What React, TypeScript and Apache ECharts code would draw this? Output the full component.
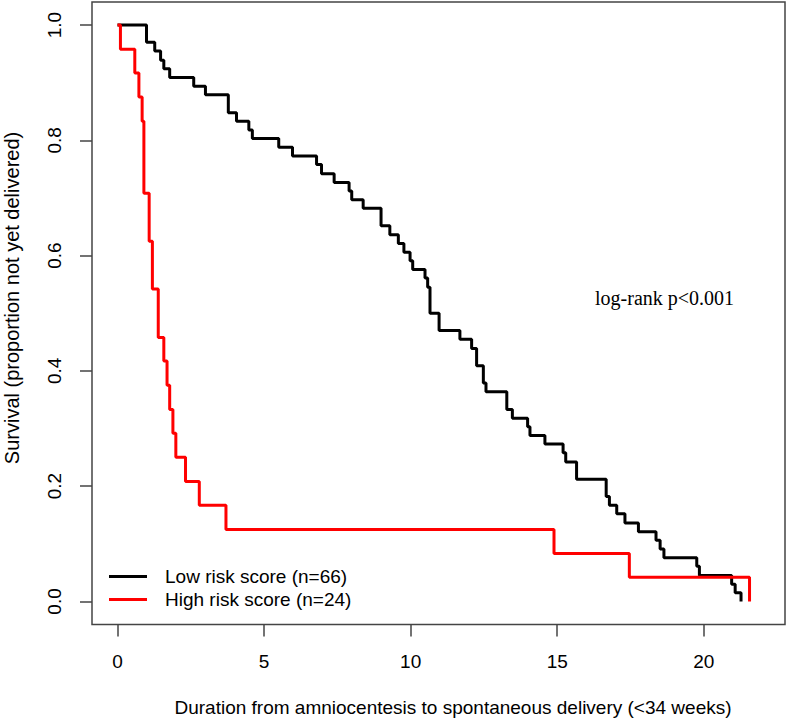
import React, { useEffect, useRef } from "react";
import * as echarts from "echarts";

const xTicks = [0, 5, 10, 15, 20];
const yTicks = [0, 0.2, 0.4, 0.6, 0.8, 1.0];

const lowName = "Low risk score (n=66)";
const highName = "High risk score (n=24)";

const lowTimes = [
  0, 0.99, 1.27, 1.47, 1.58, 1.78, 2.6, 3.0, 3.78, 4.06, 4.48,
  4.6, 5.5, 5.97, 6.79, 6.96, 7.39, 7.9, 7.99, 8.38, 8.99,
  9.29, 9.58, 9.77, 9.98, 10.07, 10.49, 10.58, 10.66, 10.97, 11.68,
  12.08, 12.25, 12.48, 12.57, 13.28, 13.47, 13.99, 14.07, 14.58, 15.2,
  15.29, 15.66, 16.67, 16.78, 17.03, 17.31, 17.77, 18.37, 18.51, 18.64,
  19.76, 19.85, 20.95, 21.07, 21.27,
];
const lowSurv = [
  1.0, 0.970, 0.955, 0.939, 0.924, 0.909, 0.894, 0.879, 0.848, 0.833, 0.818,
  0.803, 0.788, 0.773, 0.758, 0.742, 0.727, 0.712, 0.697, 0.682, 0.652,
  0.636, 0.621, 0.606, 0.591, 0.576, 0.561, 0.545, 0.500, 0.470, 0.455,
  0.439, 0.409, 0.379, 0.364, 0.333, 0.318, 0.303, 0.288, 0.273, 0.258,
  0.242, 0.212, 0.182, 0.167, 0.152, 0.136, 0.121, 0.106, 0.091, 0.076,
  0.061, 0.045, 0.030, 0.015, 0.0,
];

const highTimes = [
  0, 0.1, 0.59, 0.73, 0.84, 0.9, 1.08, 1.19, 1.39, 1.58, 1.69,
  1.78, 1.89, 1.99, 2.32, 2.79, 3.7, 14.89, 17.46, 21.56,
];
const highSurv = [
  1.0, 0.958, 0.917, 0.875, 0.833, 0.708, 0.625, 0.542, 0.458, 0.417, 0.375,
  0.333, 0.292, 0.25, 0.208, 0.167, 0.125, 0.083, 0.042, 0.0,
];

const SANS = "'Liberation Sans', Arial, Helvetica, sans-serif";
const SERIF = "'Liberation Serif', 'Times New Roman', serif";

export default function App() {
  const ref = useRef<HTMLDivElement>(null);
  useEffect(() => {
    if (!ref.current) return;
    const chart = echarts.init(ref.current, null, { renderer: "svg" });
    const lowData = lowTimes.map((t, i) => [t, lowSurv[i]]);
    const highData = highTimes.map((t, i) => [t, highSurv[i]]);
    chart.setOption({
      animation: false,
      backgroundColor: "#fff",
      grid: {
        left: 92,
        right: 2,
        top: 2,
        bottom: 96.5,
        show: true,
        borderColor: "#444",
        borderWidth: 1.5,
        backgroundColor: "transparent",
      },
      xAxis: {
        type: "value",
        min: -0.87,
        max: 22.77,
        axisLine: { show: false, onZero: false },
        splitLine: { show: false },
        axisTick: {
          show: true,
          inside: false,
          customValues: xTicks,
          length: 12,
          lineStyle: { color: "#444", width: 1.5 },
        },
        axisLabel: {
          customValues: xTicks,
          fontSize: 19,
          fontFamily: SANS,
          color: "#000",
          margin: 27,
        },
      },
      yAxis: {
        type: "value",
        min: -0.04,
        max: 1.04,
        axisLine: { show: false, onZero: false },
        splitLine: { show: false },
        axisTick: {
          show: true,
          inside: false,
          customValues: yTicks,
          length: 12,
          lineStyle: { color: "#444", width: 1.5 },
        },
        axisLabel: {
          customValues: yTicks,
          rotate: 90,
          fontSize: 19,
          fontFamily: SANS,
          color: "#000",
          margin: 28,
          formatter: (v: number) => v.toFixed(1),
        },
      },
      legend: {
        orient: "vertical",
        left: 109,
        top: 565,
        padding: 0,
        itemGap: 0,
        itemWidth: 38,
        itemHeight: 3,
        icon: "rect",
        data: [lowName, highName],
        textStyle: {
          fontSize: 19,
          fontFamily: SANS,
          color: "#000",
          lineHeight: 23,
          padding: [0, 0, 0, 13],
        },
      },
      graphic: [
        {
          type: "text",
          x: 595,
          y: 298,
          style: {
            text: "log-rank p<0.001",
            font: `20px ${SERIF}`,
            fill: "#000",
            verticalAlign: "middle",
          },
        },
        {
          type: "text",
          x: 12,
          y: 298,
          rotation: Math.PI / 2,
          style: {
            text: "Survival (proportion not yet delivered)",
            font: `20px ${SANS}`,
            fill: "#000",
            align: "center",
            verticalAlign: "middle",
          },
        },
        {
          type: "text",
          x: 453,
          y: 707,
          style: {
            text: "Duration from amniocentesis to spontaneous delivery (<34 weeks)",
            font: `19px ${SANS}`,
            fill: "#000",
            align: "center",
            verticalAlign: "middle",
          },
        },
      ],
      series: [
        {
          name: lowName,
          type: "line",
          step: "end",
          showSymbol: false,
          data: lowData,
          itemStyle: { color: "#000" },
          lineStyle: { color: "#000", width: 3 },
        },
        {
          name: highName,
          type: "line",
          step: "end",
          showSymbol: false,
          data: highData,
          itemStyle: { color: "#ff0000" },
          lineStyle: { color: "#ff0000", width: 3 },
        },
      ],
    });
    return () => chart.dispose();
  }, []);
  return (
    <div
      ref={ref}
      style={{ position: "absolute", left: 0, top: 0, width: 787, height: 721 }}
    />
  );
}
